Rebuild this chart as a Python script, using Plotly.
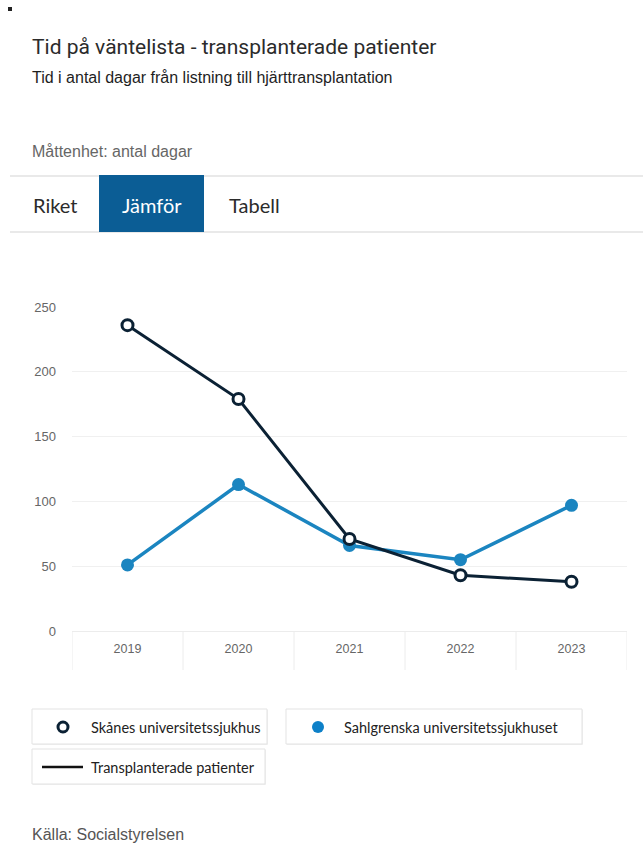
import plotly.graph_objects as go

years = ["2019", "2020", "2021", "2022", "2023"]
skane = [236, 179, 71, 43, 38]
sahlgrenska = [51, 113, 66, 55, 97]
y_ticks = [0, 50, 100, 150, 200, 250]

W, H = 643, 843
ML, MR, MT, MB = 72, 16, 307, 212
PW = W - ML - MR
PH = H - MT - MB


def xp(px):
    return (px - ML) / PW


def yp(py):
    return (H - MB - py) / PH


NAVY = "#0b2134"
BLUE = "#1b85c0"
DOT = "#0d80c8"
TABBLUE = "#0b5d95"
UI = "Lato"

fig = go.Figure()
fig.add_trace(go.Scatter(
    x=years, y=sahlgrenska, mode="lines+markers", name="Sahlgrenska universitetssjukhuset",
    line=dict(color=BLUE, width=3.5),
    marker=dict(size=13, color=BLUE, line=dict(width=0)),
))
fig.add_trace(go.Scatter(
    x=years, y=skane, mode="lines+markers", name="Skånes universitetssjukhus",
    line=dict(color=NAVY, width=3),
    marker=dict(size=11, color="white", line=dict(width=3, color=NAVY)),
))

shapes = []
annotations = []

# category boundary tick lines below the x axis
for i in range(len(years) + 1):
    shapes.append(dict(type="line", xref="x", yref="paper", x0=i - 0.5, x1=i - 0.5,
                       y0=0, y1=yp(670), line=dict(color="#ececec", width=1), layer="below"))

# header separators
for py in (176, 232):
    shapes.append(dict(type="line", xref="paper", yref="paper", x0=xp(10), x1=xp(643),
                       y0=yp(py), y1=yp(py), line=dict(color="#e2e2e2", width=1.5)))
# active tab
shapes.append(dict(type="rect", xref="paper", yref="paper", x0=xp(99), x1=xp(204),
                   y0=yp(175), y1=yp(232), fillcolor=TABBLUE, line=dict(width=0)))

# legend boxes
boxes = [(32, 267, 709, 744), (286, 582, 709, 744), (32, 265, 749, 784)]
for x0, x1, y0, y1 in boxes:
    shapes.append(dict(type="rect", xref="paper", yref="paper", x0=xp(x0 + 1), x1=xp(x1 + 1),
                       y0=yp(y0 + 1), y1=yp(y1 + 1), fillcolor="#f1f1f1", line=dict(width=0)))
    shapes.append(dict(type="rect", xref="paper", yref="paper", x0=xp(x0), x1=xp(x1),
                       y0=yp(y0), y1=yp(y1), fillcolor="white", line=dict(color="#e3e3e3", width=1)))
# legend symbols
shapes.append(dict(type="circle", xref="paper", yref="paper", x0=xp(58), x1=xp(68),
                   y0=yp(722), y1=yp(732), fillcolor="white", line=dict(color=NAVY, width=3)))
shapes.append(dict(type="circle", xref="paper", yref="paper", x0=xp(312), x1=xp(324),
                   y0=yp(721), y1=yp(733), fillcolor=DOT, line=dict(width=0)))
shapes.append(dict(type="line", xref="paper", yref="paper", x0=xp(42), x1=xp(83),
                   y0=yp(767), y1=yp(767), line=dict(color="#111111", width=2.5)))
# small corner mark
shapes.append(dict(type="rect", xref="paper", yref="paper", x0=xp(8), x1=xp(12),
                   y0=yp(7), y1=yp(11), fillcolor="#222", line=dict(width=0)))


def txt(text, px, py, size, color, family="Roboto", anchor="left"):
    annotations.append(dict(text=text, x=xp(px), y=yp(py), xref="paper", yref="paper",
                            xanchor=anchor, yanchor="middle", showarrow=False,
                            font=dict(size=size, color=color, family=family)))


txt("Tid på väntelista - transplanterade patienter", 30, 47, 21, "#2b2b2b", "Roboto")
txt("Tid i antal dagar från listning till hjärttransplantation", 30, 77, 16, "#1e1e1e", "Liberation Sans")
txt("Måttenhet: antal dagar", 30, 151, 16, "#666666", "Liberation Sans")
txt("Riket", 31, 205, 20, "#2b2b2b", UI)
txt("Jämför", 151.5, 205, 20, "white", UI, "center")
txt("Tabell", 227, 205, 20, "#2b2b2b", UI)
txt("Skånes universitetssjukhus", 89, 727, 14.5, "#222222", UI)
txt("Sahlgrenska universitetssjukhuset", 342, 727, 14.5, "#222222", UI)
txt("Transplanterade patienter", 89, 767, 14.5, "#222222", UI)
txt("Källa: Socialstyrelsen", 30, 834, 16, "#555555", "Liberation Sans")

fig.update_layout(
    width=W, height=H, margin=dict(l=ML, r=MR, t=MT, b=MB),
    paper_bgcolor="white", plot_bgcolor="white",
    showlegend=False, shapes=shapes, annotations=annotations,
    xaxis=dict(type="category", range=[-0.5, len(years) - 0.5], showgrid=False,
               showline=True, linecolor="#ececec", linewidth=1, ticks="",
               tickfont=dict(size=12.5, color="#666666", family="Liberation Sans"),
               ticklabelstandoff=6, fixedrange=True),
    yaxis=dict(range=[0, 250], tickvals=y_ticks, showgrid=True, gridcolor="#f0f0f0",
               gridwidth=1, zeroline=False, showline=False, ticks="",
               tickfont=dict(size=13, color="#666666", family="Liberation Sans"),
               ticklabelstandoff=15, fixedrange=True),
)

fig.write_html("out.html")
